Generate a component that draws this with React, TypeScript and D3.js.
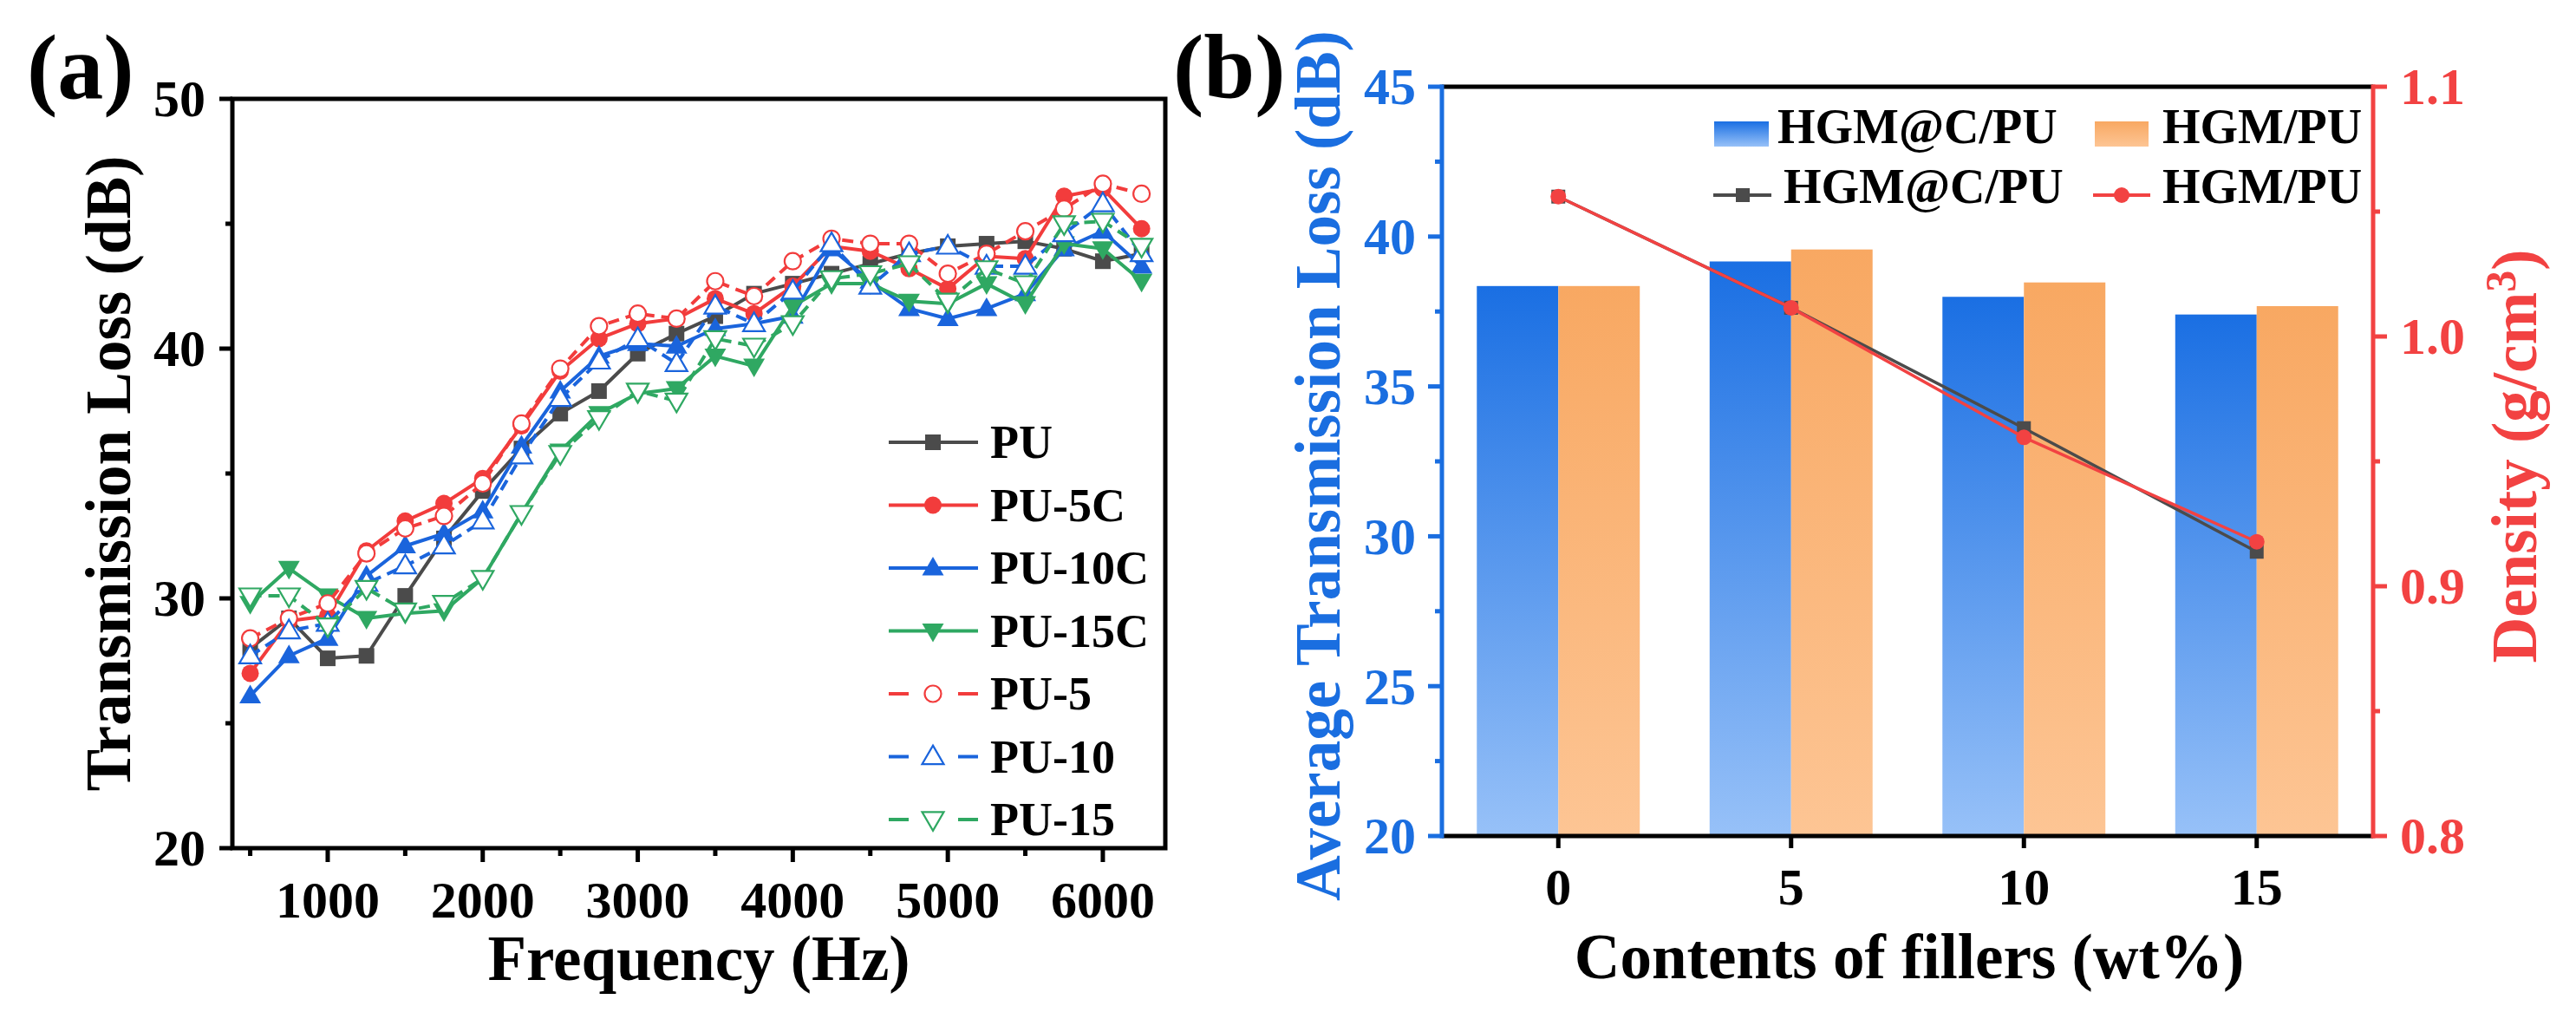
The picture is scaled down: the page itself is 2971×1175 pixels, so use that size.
import React, { useEffect } from "react";
import * as d3 from "d3";

// ---------- Panel (a) data ----------
const freqs = [500, 750, 1000, 1250, 1500, 1750, 2000, 2250, 2500, 2750, 3000, 3250, 3500, 3750, 4000, 4250, 4500, 4750, 5000, 5250, 5500, 5750, 6000, 6250];
const PU = [28.0, 29.2, 27.6, 27.7, 30.1, 32.4, 34.3, 36.0, 37.4, 38.3, 39.8, 40.6, 41.3, 42.2, 42.6, 43.0, 43.4, 43.8, 44.1, 44.2, 44.3, 44.0, 43.5, 43.8];
const PU5C = [27.0, 29.1, 29.3, 31.9, 33.1, 33.8, 34.8, 36.9, 39.1, 40.4, 41.0, 41.2, 42.0, 41.4, 42.5, 44.1, 43.9, 43.2, 42.4, 43.7, 43.6, 46.1, 46.4, 44.8];
const PU10C = [26.1, 27.7, 28.4, 30.9, 32.1, 32.6, 33.5, 36.1, 38.3, 39.7, 40.2, 40.1, 40.8, 41.0, 41.3, 44.0, 42.7, 41.6, 41.2, 41.6, 42.2, 44.0, 44.7, 43.3];
const PU15C = [29.8, 31.2, 30.1, 29.2, 29.4, 29.5, 30.8, 33.4, 35.9, 37.4, 38.2, 38.4, 39.7, 39.3, 41.7, 42.6, 42.6, 41.9, 41.8, 42.6, 41.8, 44.2, 44.0, 42.7];
const PU5 = [28.4, 29.2, 29.8, 31.8, 32.8, 33.3, 34.6, 37.0, 39.2, 40.9, 41.4, 41.2, 42.7, 42.1, 43.5, 44.4, 44.2, 44.2, 43.0, 43.8, 44.7, 45.6, 46.6, 46.2];
const PU10 = [27.7, 28.7, 29.0, 30.6, 31.3, 32.1, 33.1, 35.7, 38.0, 39.5, 40.4, 39.4, 41.7, 41.0, 42.3, 44.2, 42.5, 43.8, 44.1, 43.3, 43.3, 44.6, 45.8, 43.8];
const PU15 = [30.1, 30.1, 28.9, 30.4, 29.5, 29.8, 30.8, 33.4, 35.8, 37.2, 38.3, 37.9, 40.4, 40.1, 41.0, 42.8, 43.0, 43.4, 41.9, 43.2, 42.6, 45.0, 45.1, 44.1];
const seriesNamesA = ["PU", "PU-5C", "PU-10C", "PU-15C", "PU-5", "PU-10", "PU-15"];
const seriesValuesA = [PU, PU5C, PU10C, PU15C, PU5, PU10, PU15];
const yTicksA = [20, 30, 40, 50];
const xTicksA = [1000, 2000, 3000, 4000, 5000, 6000];

// ---------- Panel (b) data ----------
const contents = ["0", "5", "10", "15"];
const tlHGMC = [38.35, 39.17, 37.99, 37.4];
const tlHGM = [38.35, 39.57, 38.47, 37.68];
const densHGMC = [1.056, 1.0115, 0.9633, 0.9138];
const densHGM = [1.056, 1.0115, 0.9596, 0.9178];
const yTicksBL = [20, 25, 30, 35, 40, 45];
const yTicksBR = [0.8, 0.9, 1.0, 1.1];

const FONT = "'Liberation Serif', 'Times New Roman', serif";

type MarkerKind = "square" | "circle" | "up" | "down";
const stylesA: { color: string; marker: MarkerKind; filled: boolean; dashed: boolean }[] = [
  { color: "#4b4b4b", marker: "square", filled: true, dashed: false },
  { color: "#f23c3c", marker: "circle", filled: true, dashed: false },
  { color: "#1a64dc", marker: "up", filled: true, dashed: false },
  { color: "#2fa862", marker: "down", filled: true, dashed: false },
  { color: "#f23c3c", marker: "circle", filled: false, dashed: true },
  { color: "#1a64dc", marker: "up", filled: false, dashed: true },
  { color: "#2fa862", marker: "down", filled: false, dashed: true },
];

function Marker({ kind, x, y, color, filled }: { kind: MarkerKind; x: number; y: number; color: string; filled: boolean }) {
  const fill = filled ? color : "#ffffff";
  const sw = filled ? 0 : 2.2;
  if (kind === "square") return <rect x={x - 9} y={y - 9} width={18} height={18} fill={fill} stroke={color} strokeWidth={sw} />;
  if (kind === "circle") return <circle cx={x} cy={y} r={filled ? 10 : 9.5} fill={fill} stroke={color} strokeWidth={sw} />;
  const s = 12.5;
  const h = 21.5;
  if (kind === "up")
    return <path d={`M${x},${y - h * 0.6} L${x + s},${y + h * 0.4} L${x - s},${y + h * 0.4} Z`} fill={fill} stroke={color} strokeWidth={sw} />;
  return <path d={`M${x},${y + h * 0.6} L${x + s},${y - h * 0.4} L${x - s},${y - h * 0.4} Z`} fill={fill} stroke={color} strokeWidth={sw} />;
}

function PanelA() {
  const L = 268, R = 1344, T = 114, B = 978;
  const x = d3.scaleLinear().domain([385, 6403]).range([L, R]);
  const y = d3.scaleLinear().domain([20, 50]).range([B, T]);
  const line = d3.line<number>().x((_, i) => x(freqs[i])).y((v) => y(v));
  const minorY = [25, 35, 45];
  const minorX = [500, 1500, 2500, 3500, 4500, 5500];
  const legendY = [510, 582.5, 655, 727.5, 800, 872.5, 945];
  return (
    <g>
      <text x={31} y={113} fontFamily={FONT} fontWeight="bold" fontSize={106}>(a)</text>
      {seriesValuesA.map((vals, si) => {
        const st = stylesA[si];
        return (
          <g key={si}>
            <path d={line(vals) || ""} fill="none" stroke={st.color} strokeWidth={4} strokeDasharray={st.dashed ? "13,8" : undefined} strokeLinejoin="round" />
            {vals.map((v, i) => (
              <Marker key={i} kind={st.marker} x={x(freqs[i])} y={y(v)} color={st.color} filled={st.filled} />
            ))}
          </g>
        );
      })}
      {/* frame */}
      <rect x={L} y={T} width={R - L} height={B - T} fill="none" stroke="#000" strokeWidth={5} />
      {yTicksA.map((t) => (
        <g key={t}>
          <line x1={L - 15} x2={L} y1={y(t)} y2={y(t)} stroke="#000" strokeWidth={5} />
          <text x={237} y={y(t)} dy="0.34em" textAnchor="end" fontFamily={FONT} fontWeight="bold" fontSize={60}>{t}</text>
        </g>
      ))}
      {minorY.map((t) => (
        <line key={t} x1={L - 8} x2={L} y1={y(t)} y2={y(t)} stroke="#000" strokeWidth={5} />
      ))}
      {xTicksA.map((t) => (
        <g key={t}>
          <line x1={x(t)} x2={x(t)} y1={B} y2={B + 16} stroke="#000" strokeWidth={5} />
          <text x={x(t)} y={1058} textAnchor="middle" fontFamily={FONT} fontWeight="bold" fontSize={60}>{t}</text>
        </g>
      ))}
      {minorX.map((t) => (
        <line key={t} x1={x(t)} x2={x(t)} y1={B} y2={B + 9} stroke="#000" strokeWidth={5} />
      ))}
      <text x={806} y={1130} textAnchor="middle" fontFamily={FONT} fontWeight="bold" fontSize={73}>Frequency (Hz)</text>
      <text transform={`translate(150,${(T + B) / 2}) rotate(-90)`} textAnchor="middle" fontFamily={FONT} fontWeight="bold" fontSize={73}>Transmission Loss (dB)</text>
      {/* legend */}
      {seriesNamesA.map((name, si) => {
        const st = stylesA[si];
        const ly = legendY[si];
        return (
          <g key={name}>
            {st.dashed ? (
              <g>
                <line x1={1025} x2={1048} y1={ly} y2={ly} stroke={st.color} strokeWidth={4} />
                <line x1={1105} x2={1128} y1={ly} y2={ly} stroke={st.color} strokeWidth={4} />
              </g>
            ) : (
              <line x1={1025} x2={1128} y1={ly} y2={ly} stroke={st.color} strokeWidth={4} />
            )}
            <Marker kind={st.marker} x={1076} y={ly} color={st.color} filled={st.filled} />
            <text x={1142} y={ly} dy="0.34em" fontFamily={FONT} fontWeight="bold" fontSize={54}>{name}</text>
          </g>
        );
      })}
    </g>
  );
}

function PanelB() {
  const L = 1663, R = 2737, T = 100, B = 964;
  const blue = "#1a6ee0";
  const red = "#f24242";
  const x = d3.scaleBand<string>().domain(contents).range([L, R]).paddingInner(0.3).paddingOuter(0.15);
  const yl = d3.scaleLinear().domain([20, 45]).range([B, T]);
  const yr = d3.scaleLinear().domain([0.8, 1.1]).range([B, T]);
  const bw = x.bandwidth() / 2;
  const cx = (c: string) => (x(c) as number) + x.bandwidth() / 2;
  const lineR = d3.line<number>().x((_, i) => cx(contents[i])).y((v) => yr(v));
  const minorL = [22.5, 27.5, 32.5, 37.5, 42.5];
  const minorR = [0.85, 0.95, 1.05];
  return (
    <g>
      <defs>
        <linearGradient id="gBlue" x1="0" y1="0" x2="0" y2="1">
          <stop offset="0" stopColor="#1a6fe3" />
          <stop offset="1" stopColor="#97c1f8" />
        </linearGradient>
        <linearGradient id="gOrange" x1="0" y1="0" x2="0" y2="1">
          <stop offset="0" stopColor="#f8a862" />
          <stop offset="1" stopColor="#fdc594" />
        </linearGradient>
      </defs>
      <text x={1353} y={113} fontFamily={FONT} fontWeight="bold" fontSize={106}>(b)</text>
      {contents.map((c, i) => (
        <g key={c}>
          <rect x={x(c)} y={yl(tlHGMC[i])} width={bw} height={B - yl(tlHGMC[i])} fill="url(#gBlue)" />
          <rect x={(x(c) as number) + bw} y={yl(tlHGM[i])} width={bw} height={B - yl(tlHGM[i])} fill="url(#gOrange)" />
        </g>
      ))}
      <path d={lineR(densHGMC) || ""} fill="none" stroke="#4b4b4b" strokeWidth={3.5} />
      {densHGMC.map((v, i) => (
        <rect key={i} x={cx(contents[i]) - 8} y={yr(v) - 8} width={16} height={16} fill="#4b4b4b" />
      ))}
      <path d={lineR(densHGM) || ""} fill="none" stroke={red} strokeWidth={3.5} />
      {densHGM.map((v, i) => (
        <circle key={i} cx={cx(contents[i])} cy={yr(v)} r={9} fill={red} />
      ))}
      {/* axes */}
      <line x1={L} x2={R} y1={T} y2={T} stroke="#000" strokeWidth={5} />
      <line x1={L} x2={R} y1={B} y2={B} stroke="#000" strokeWidth={5} />
      <line x1={L} x2={L} y1={T - 2.5} y2={B + 2.5} stroke={blue} strokeWidth={5} />
      <line x1={R} x2={R} y1={T - 2.5} y2={B + 2.5} stroke={red} strokeWidth={5} />
      {yTicksBL.map((t) => (
        <g key={t}>
          <line x1={L - 16} x2={L} y1={yl(t)} y2={yl(t)} stroke={blue} strokeWidth={5} />
          <text x={1633} y={yl(t)} dy="0.34em" textAnchor="end" fill={blue} fontFamily={FONT} fontWeight="bold" fontSize={60}>{t}</text>
        </g>
      ))}
      {minorL.map((t) => (
        <line key={t} x1={L - 8} x2={L} y1={yl(t)} y2={yl(t)} stroke={blue} strokeWidth={5} />
      ))}
      {yTicksBR.map((t) => (
        <g key={t}>
          <line x1={R} x2={R + 16} y1={yr(t)} y2={yr(t)} stroke={red} strokeWidth={5} />
          <text x={2768} y={yr(t)} dy="0.34em" textAnchor="start" fill={red} fontFamily={FONT} fontWeight="bold" fontSize={60}>{t.toFixed(1)}</text>
        </g>
      ))}
      {minorR.map((t) => (
        <line key={t} x1={R} x2={R + 8} y1={yr(t)} y2={yr(t)} stroke={red} strokeWidth={5} />
      ))}
      {contents.map((c) => (
        <g key={c}>
          <line x1={cx(c)} x2={cx(c)} y1={B} y2={B + 14} stroke="#000" strokeWidth={5} />
          <text x={cx(c)} y={1043} textAnchor="middle" fontFamily={FONT} fontWeight="bold" fontSize={60}>{c}</text>
        </g>
      ))}
      <text x={2202} y={1128} textAnchor="middle" fontFamily={FONT} fontWeight="bold" fontSize={73}>Contents of fillers (wt%)</text>
      <text transform={`translate(1545,537) rotate(-90)`} textAnchor="middle" fill={blue} fontFamily={FONT} fontWeight="bold" fontSize={73}>Average Transmission Loss (dB)</text>
      <text transform={`translate(2925,526) rotate(-90)`} textAnchor="middle" fill={red} fontFamily={FONT} fontWeight="bold" fontSize={73}>
        <tspan>Density (g/cm</tspan>
        <tspan dy={-24} fontSize={50}>3</tspan>
        <tspan dy={24}>)</tspan>
      </text>
      {/* legend */}
      <rect x={1977} y={140} width={63} height={29} fill="url(#gBlue)" />
      <text x={2050} y={165} fontFamily={FONT} fontWeight="bold" fontSize={56}>HGM@C/PU</text>
      <rect x={2416} y={140} width={62} height={29} fill="url(#gOrange)" />
      <text x={2494} y={165} fontFamily={FONT} fontWeight="bold" fontSize={56}>HGM/PU</text>
      <line x1={1976} x2={2043} y1={225} y2={225} stroke="#4b4b4b" strokeWidth={4} />
      <rect x={2002} y={217} width={16} height={16} fill="#4b4b4b" />
      <text x={2057} y={234} fontFamily={FONT} fontWeight="bold" fontSize={56}>HGM@C/PU</text>
      <line x1={2414} x2={2480} y1={225} y2={225} stroke={red} strokeWidth={4} />
      <circle cx={2447} cy={225} r={9} fill={red} />
      <text x={2494} y={234} fontFamily={FONT} fontWeight="bold" fontSize={56}>HGM/PU</text>
    </g>
  );
}

export default function App() {
  useEffect(() => {
    document.body.style.margin = "0";
  }, []);
  return (
    <svg width={2971} height={1175} style={{ position: "absolute", left: 0, top: 0, background: "#fff" }}>
      <rect x={0} y={0} width={2971} height={1175} fill="#fff" />
      <PanelA />
      <PanelB />
    </svg>
  );
}
